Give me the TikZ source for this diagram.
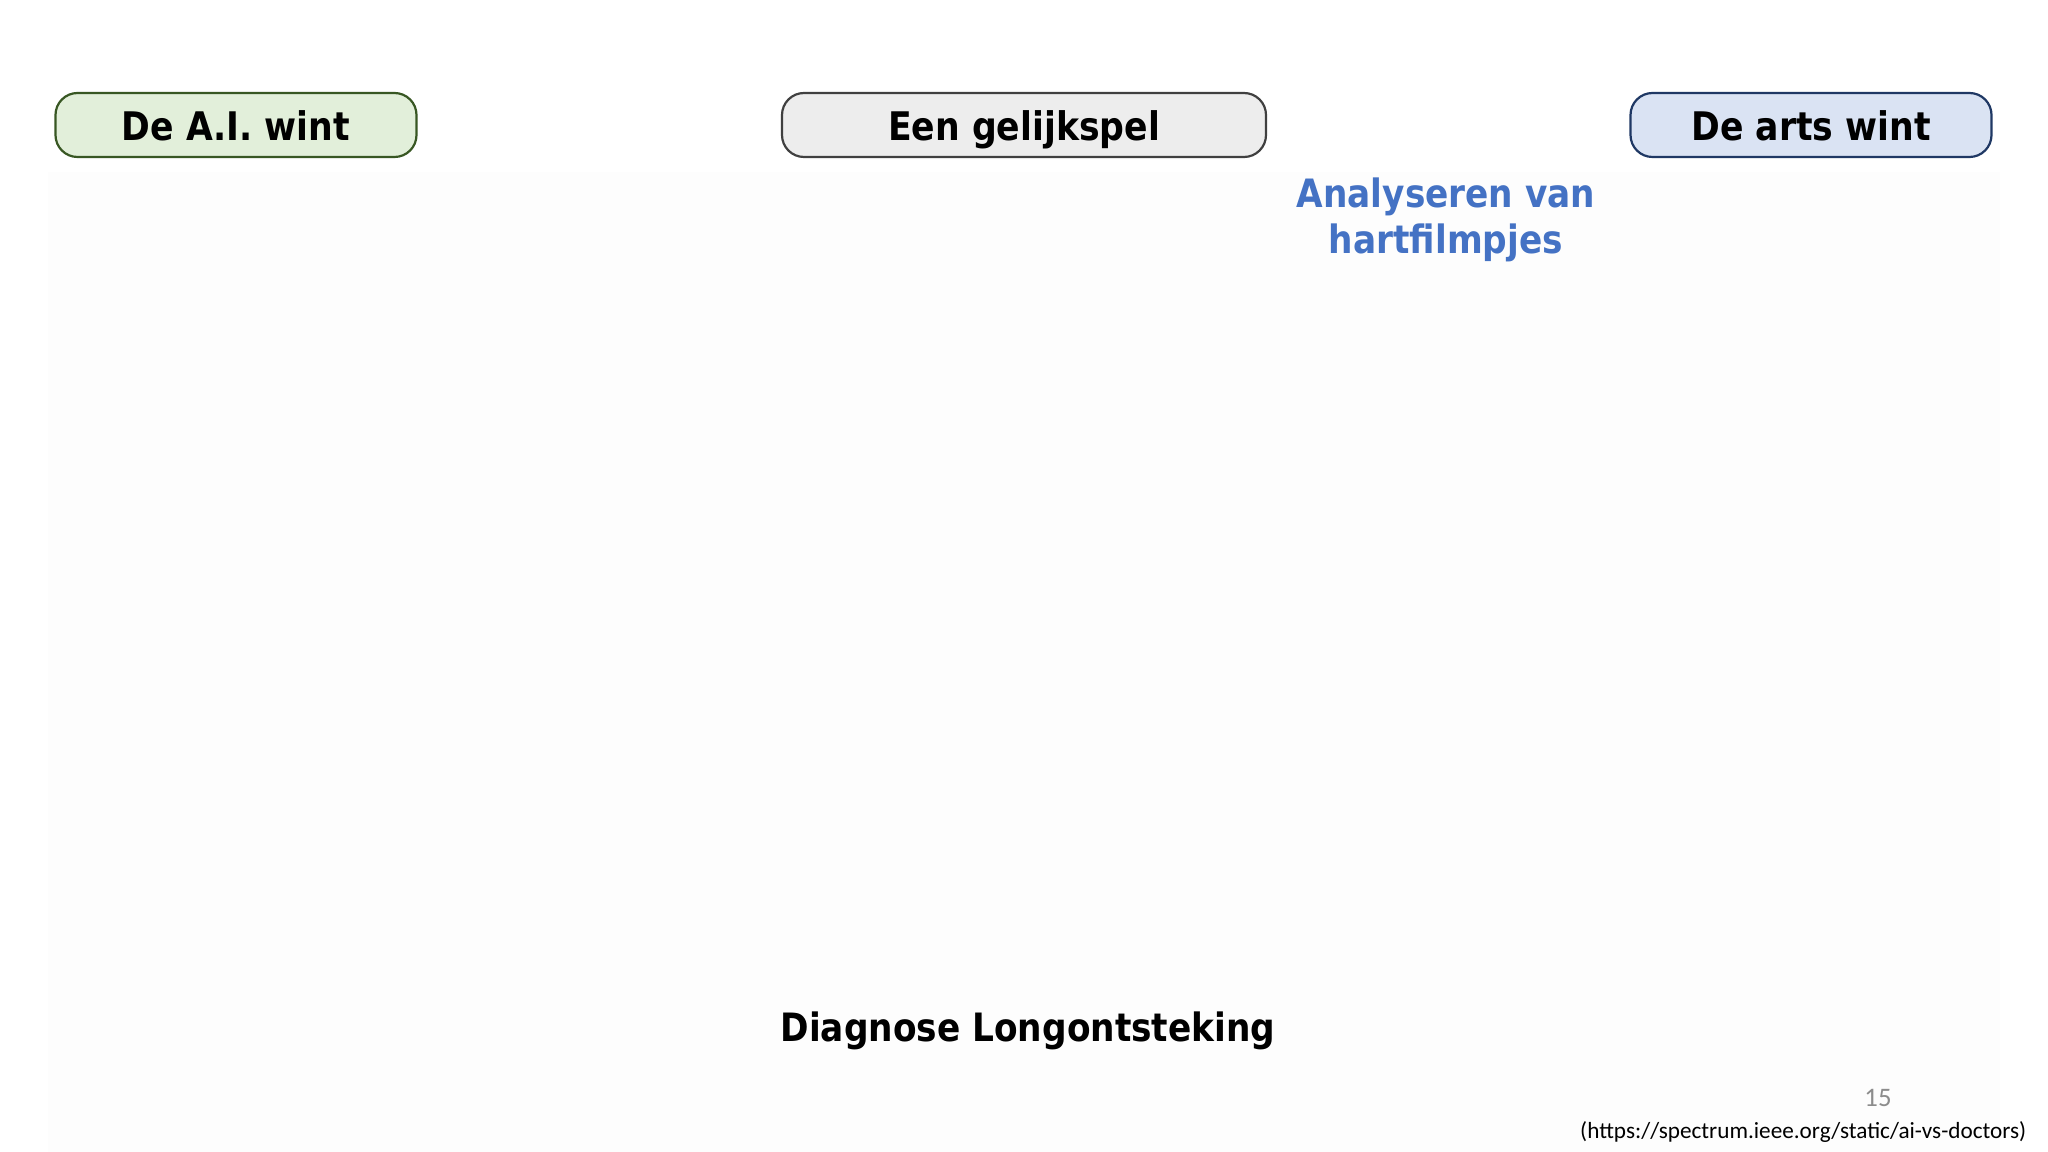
\documentclass[tikz,border=0pt]{standalone}
\usepackage{fontspec}
\setmainfont{DejaVu Sans}[FakeStretch=0.88]
\newfontfamily\calib{Carlito}
\definecolor{aifill}{HTML}{E2EFDA}
\definecolor{aidraw}{HTML}{385723}
\definecolor{drawfill}{HTML}{EDEDED}
\definecolor{drawdraw}{HTML}{404040}
\definecolor{docfill}{HTML}{DAE3F3}
\definecolor{docdraw}{HTML}{1F3864}
\definecolor{blueText}{HTML}{4472C4}
\definecolor{bgpanel}{HTML}{FDFDFD}
\tikzset{
  hdr/.style={rounded corners=2.2mm, line width=0.22mm, minimum height=64*0.01cm,
    font=\fontsize{11.2pt}{12pt}\bfseries, inner sep=0pt, text height=9.1pt, text depth=0pt},
}
\begin{document}
\begin{tikzpicture}[x=0.01cm,y=-0.01cm]
\useasboundingbox (0,0) rectangle (2048,1152);
\fill[white] (0,0) rectangle (2048,1152);
\fill[bgpanel] (48,172) rectangle (2000,1152);
\node[hdr, fill=aifill, draw=aidraw, minimum width=361*0.01cm] (ai) at (236,125) {De A.I. wint};
\node[hdr, fill=drawfill, draw=drawdraw, minimum width=484*0.01cm] (tie) at (1024,125) {Een gelijkspel};
\node[hdr, fill=docfill, draw=docdraw, minimum width=361*0.01cm] (doc) at (1811,125) {De arts wint};
\node[font=\fontsize{11.1pt}{13.1pt}\bfseries, text=blueText, align=center, inner sep=0pt] (heart) at (1446,220) {Analyseren van\\hartfilmpjes};
\node[font=\fontsize{11.1pt}{12pt}\bfseries, inner sep=0pt] (pneu) at (1028,1031) {Diagnose Longontsteking};
\node[font=\calib\fontsize{7.6pt}{8pt}\selectfont, text=gray!90, inner sep=0pt] (page) at (1878,1098) {15};
\node[font=\calib\fontsize{6.6pt}{8pt}\selectfont, anchor=east, inner sep=0pt] (src) at (2027,1132) {(https://spectrum.ieee.org/static/ai-vs-doctors)};
\end{tikzpicture}
\end{document}
